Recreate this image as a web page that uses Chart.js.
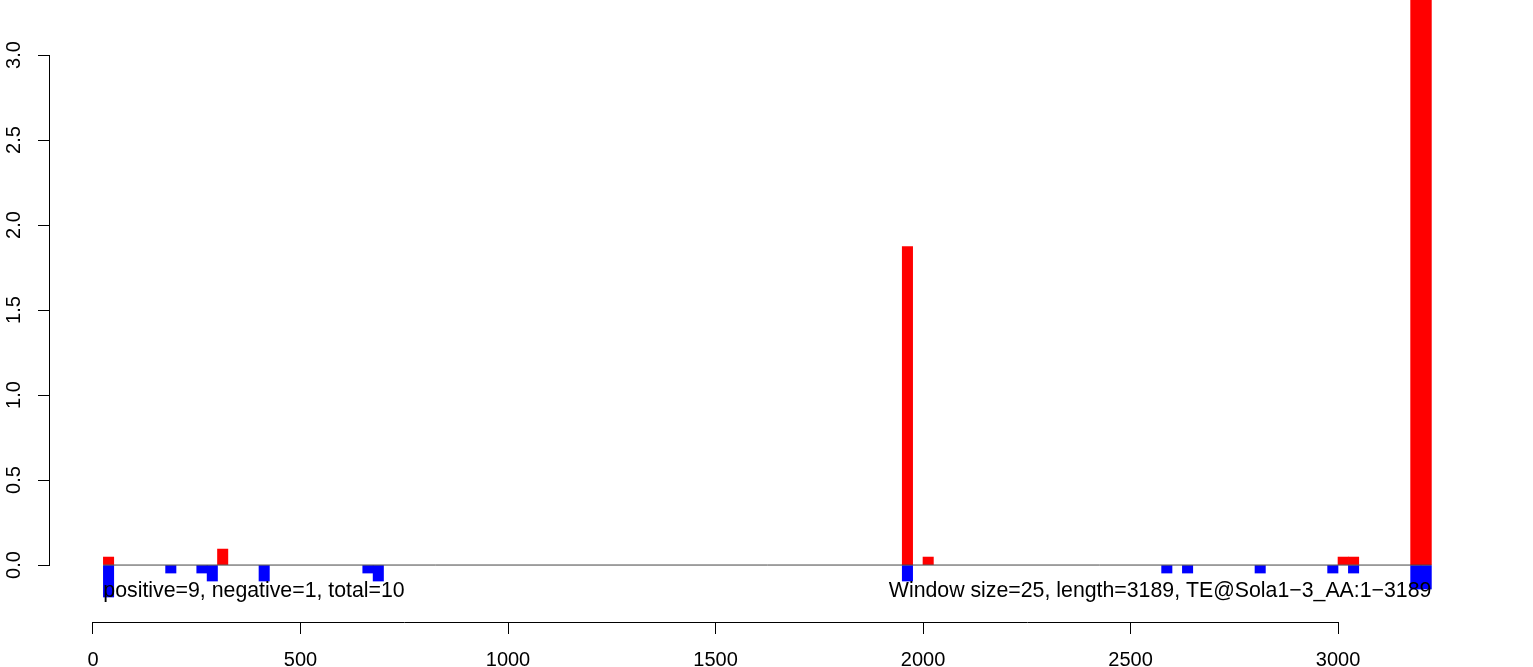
<!DOCTYPE html>
<html>
<head>
<meta charset="utf-8">
<script src="https://cdn.jsdelivr.net/npm/chart.js@4/dist/chart.umd.min.js"></script>
<style>
  html, body { margin: 0; padding: 0; background: #fff; }
  #wrap { width: 1533px; height: 667px; position: relative; }
</style>
</head>
<body>
<div id="wrap"><canvas id="c"></canvas></div>
<script>
// ---- data ----
const windowSize = 25;
const redStarts   = [25, 300, 1950, 2000, 3000, 3025, 3175, 3200];
const redValues   = [0.047, 0.094, 1.873, 0.047, 0.047, 0.047, 3.6, 3.6];
const blueStarts  = [25, 175, 250, 275, 400, 650, 675, 1950, 2575, 2625, 2800, 2975, 3025, 3175, 3200];
const blueValues  = [-0.188, -0.047, -0.047, -0.094, -0.094, -0.047, -0.094, -0.094, -0.047, -0.047, -0.047, -0.047, -0.047, -0.141, -0.141];
const baselineX   = [25, 3225];
const xTicks      = [0, 500, 1000, 1500, 2000, 2500, 3000];
const yTicks      = [0, 0.5, 1.0, 1.5, 2.0, 2.5, 3.0];
const leftNote    = 'positive=9, negative=1, total=10';
const rightNote   = 'Window size=25, length=3189, TE@Sola1\u22123_AA:1\u22123189';
const noteY       = -0.145;

const FONT = '"Liberation Sans", Arial, Helvetica, sans-serif';
const NOTE_SIZE = 21.3;

const toPts = (starts, vals) => starts.map((s, i) => ({ x: s + windowSize / 2, y: vals[i] }));

const overlay = {
  id: 'overlay',
  afterDatasetsDraw(chart) {
    const { ctx, chartArea, scales: { x, y } } = chart;
    ctx.save();
    ctx.strokeStyle = '#000';
    ctx.lineWidth = 1;
    ctx.beginPath();
    const yb = Math.round(chartArea.bottom) + 0.5;
    ctx.moveTo(Math.round(x.getPixelForValue(xTicks[0])), yb);
    ctx.lineTo(Math.round(x.getPixelForValue(xTicks[xTicks.length - 1])) + 1, yb);
    const xl = Math.round(chartArea.left) - 0.5;
    ctx.moveTo(xl, Math.round(y.getPixelForValue(yTicks[0])) + 1);
    ctx.lineTo(xl, Math.round(y.getPixelForValue(yTicks[yTicks.length - 1])));
    ctx.stroke();

    ctx.fillStyle = '#000';
    ctx.font = NOTE_SIZE + 'px ' + FONT;
    ctx.textBaseline = 'alphabetic';
    const by = y.getPixelForValue(noteY) + 0.358 * NOTE_SIZE;
    ctx.textAlign = 'left';
    ctx.fillText(leftNote, x.getPixelForValue(baselineX[0]), by);
    ctx.textAlign = 'right';
    ctx.fillText(rightNote, x.getPixelForValue(baselineX[1]), by);
    ctx.restore();
  }
};

function noPad(s) { s.paddingTop = 0; s.paddingBottom = 0; s.paddingLeft = 0; s.paddingRight = 0; }

new Chart(document.getElementById('c'), {
  type: 'bar',
  data: {
    datasets: [
      {
        type: 'line',
        data: baselineX.map(v => ({ x: v, y: 0 })),
        borderColor: '#444444',
        borderWidth: 1,
        pointRadius: 0,
        order: 0
      },
      {
        data: toPts(redStarts, redValues),
        backgroundColor: '#FF0000',
        borderWidth: 0,
        grouped: false,
        barPercentage: 1,
        categoryPercentage: 1,
        order: 2
      },
      {
        data: toPts(blueStarts, blueValues),
        backgroundColor: '#0000FF',
        borderWidth: 0,
        grouped: false,
        barPercentage: 1,
        categoryPercentage: 1,
        order: 1
      }
    ]
  },
  options: {
    responsive: true,
    maintainAspectRatio: false,
    animation: false,
    events: [],
    layout: { padding: { left: 0, right: 25, top: 0, bottom: 0 } },
    plugins: { legend: { display: false }, tooltip: { enabled: false }, title: { display: false } },
    scales: {
      x: {
        type: 'linear',
        min: -103.6,
        max: 3409.6,
        offset: false,
        border: { display: false },
        grid: { display: true, offset: false, drawOnChartArea: false, drawTicks: true, tickLength: 12, color: '#000', lineWidth: 1 },
        ticks: {
          color: '#000',
          font: { family: FONT, size: 20 },
          padding: 14,
          maxRotation: 0,
          autoSkip: false,
          callback: v => String(v)
        },
        afterBuildTicks: s => { s.ticks = xTicks.map(v => ({ value: v })); },
        afterFit: s => { s.height = 45; noPad(s); }
      },
      y: {
        type: 'linear',
        min: -0.335,
        max: 3.324,
        offset: false,
        border: { display: false },
        grid: { display: true, offset: false, drawOnChartArea: false, drawTicks: true, tickLength: 12, color: '#000', lineWidth: 1 },
        ticks: {
          color: '#000',
          font: { family: FONT, size: 20 },
          padding: 10,
          minRotation: 90,
          maxRotation: 90,
          crossAlign: 'center',
          autoSkip: false,
          callback: v => Number(v).toFixed(1)
        },
        afterBuildTicks: s => { s.ticks = yTicks.map(v => ({ value: v })); },
        afterFit: s => { s.width = 50; noPad(s); }
      }
    }
  },
  plugins: [overlay]
});
</script>
</body>
</html>
